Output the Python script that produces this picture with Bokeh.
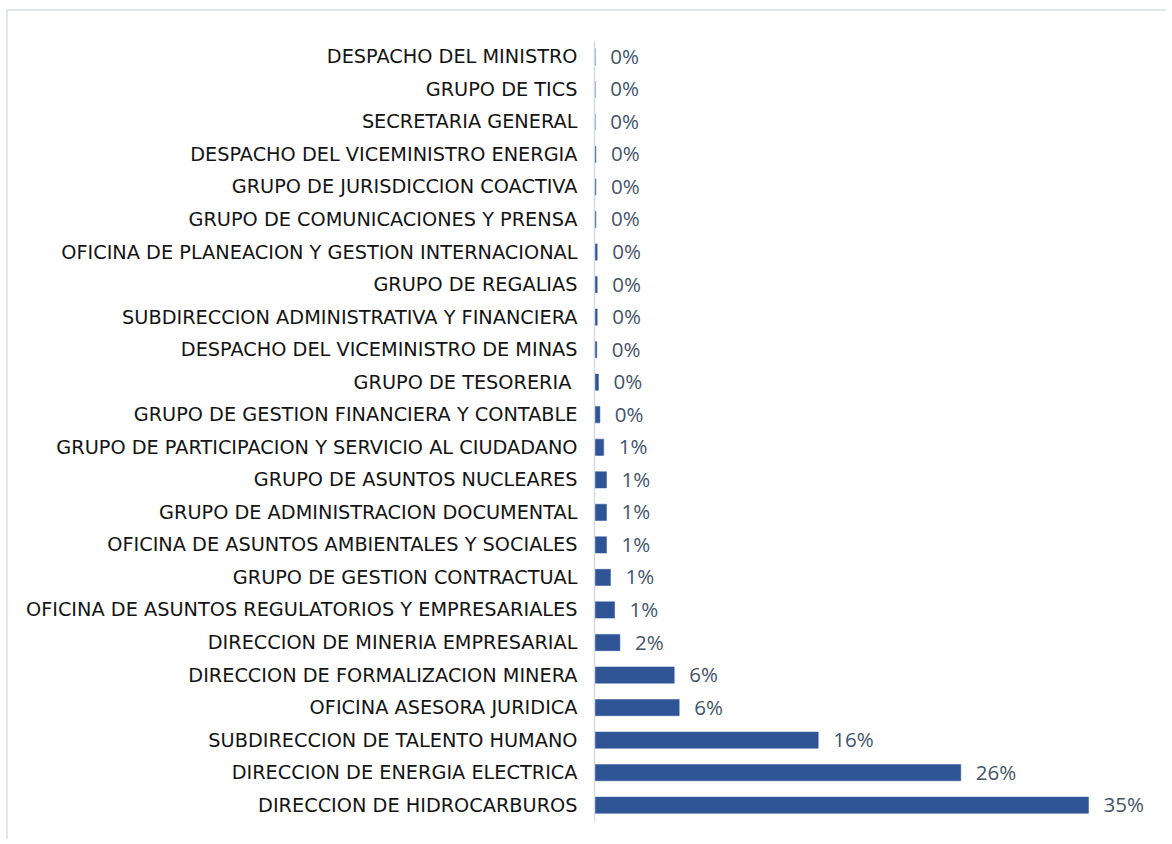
from bokeh.plotting import figure
from bokeh.models import FactorRange, Range1d, ColumnDataSource
from bokeh.core.properties import value
from bokeh.embed import file_html
from bokeh.resources import INLINE

# Data (top to bottom as in the chart)
categories = [
    "DESPACHO DEL MINISTRO",
    "GRUPO DE TICS",
    "SECRETARIA GENERAL",
    "DESPACHO DEL VICEMINISTRO ENERGIA",
    "GRUPO DE JURISDICCION COACTIVA",
    "GRUPO DE COMUNICACIONES Y PRENSA",
    "OFICINA DE PLANEACION Y GESTION INTERNACIONAL",
    "GRUPO DE REGALIAS",
    "SUBDIRECCION ADMINISTRATIVA Y FINANCIERA",
    "DESPACHO DEL VICEMINISTRO DE MINAS",
    "GRUPO DE TESORERIA ",
    "GRUPO DE GESTION FINANCIERA Y CONTABLE",
    "GRUPO DE PARTICIPACION Y SERVICIO AL CIUDADANO",
    "GRUPO DE ASUNTOS NUCLEARES",
    "GRUPO DE ADMINISTRACION DOCUMENTAL",
    "OFICINA DE ASUNTOS AMBIENTALES Y SOCIALES",
    "GRUPO DE GESTION CONTRACTUAL",
    "OFICINA DE ASUNTOS REGULATORIOS Y EMPRESARIALES",
    "DIRECCION DE MINERIA EMPRESARIAL",
    "DIRECCION DE FORMALIZACION MINERA",
    "OFICINA ASESORA JURIDICA",
    "SUBDIRECCION DE TALENTO HUMANO",
    "DIRECCION DE ENERGIA ELECTRICA",
    "DIRECCION DE HIDROCARBUROS",
]
values = [
    0.05, 0.05, 0.05, 0.10, 0.10, 0.10,
    0.19, 0.19, 0.19, 0.16, 0.28, 0.38,
    0.65, 0.85, 0.85, 0.85, 1.13, 1.42,
    1.80, 5.65, 6.00, 15.85, 25.95, 35.0,
]
labels = [
    "0%", "0%", "0%", "0%", "0%", "0%",
    "0%", "0%", "0%", "0%", "0%", "0%",
    "1%", "1%", "1%", "1%", "1%", "1%",
    "2%", "6%", "6%", "16%", "26%", "35%",
]

src = ColumnDataSource(dict(cat=categories, val=values, lab=labels))

W, H = 1160, 830
left, top, bottom = 586, 29, 20
frame_w = W - left
x_end = frame_w / (494.0 / 35.0)

p = figure(
    width=W, height=H,
    y_range=FactorRange(factors=list(reversed(categories))),
    x_range=Range1d(0, x_end),
    x_axis_location=None,
    output_backend="svg",
    toolbar_location=None,
    min_border_left=left, min_border_right=0,
    min_border_top=top, min_border_bottom=bottom,
)
p.styles = {
    "margin-left": "6px", "margin-top": "9px",
    "border-top": "2px solid #E1E5EC", "border-left": "2px solid #E1E5EC",
}
p.outline_line_color = None
p.background_fill_color = "white"
p.border_fill_color = "white"
p.xgrid.visible = False
p.ygrid.visible = False

p.hbar(y="cat", right="val", left=0, height=0.5, source=src,
       fill_color="#2F5597", line_color="#2F5597", line_width=0.5)

p.text(x="val", y="cat", text="lab", source=src, x_offset=15, y_offset=-1,
       text_font=value("Open Sans"), text_font_size="20.5px",
       text_color="#44546A", text_baseline="middle", text_align="left")

ax = p.yaxis[0]
ax.axis_line_color = "#D5DBE5"
ax.axis_line_width = 1.5
ax.major_tick_line_color = None
ax.minor_tick_line_color = None
ax.major_tick_out = 0
ax.major_tick_in = 0
ax.major_label_standoff = 17
ax.major_label_text_font = "DejaVu Sans"
ax.major_label_text_font_size = "19.3px"
ax.major_label_text_color = "#141414"

open("out.html", "w").write(file_html(p, INLINE))
